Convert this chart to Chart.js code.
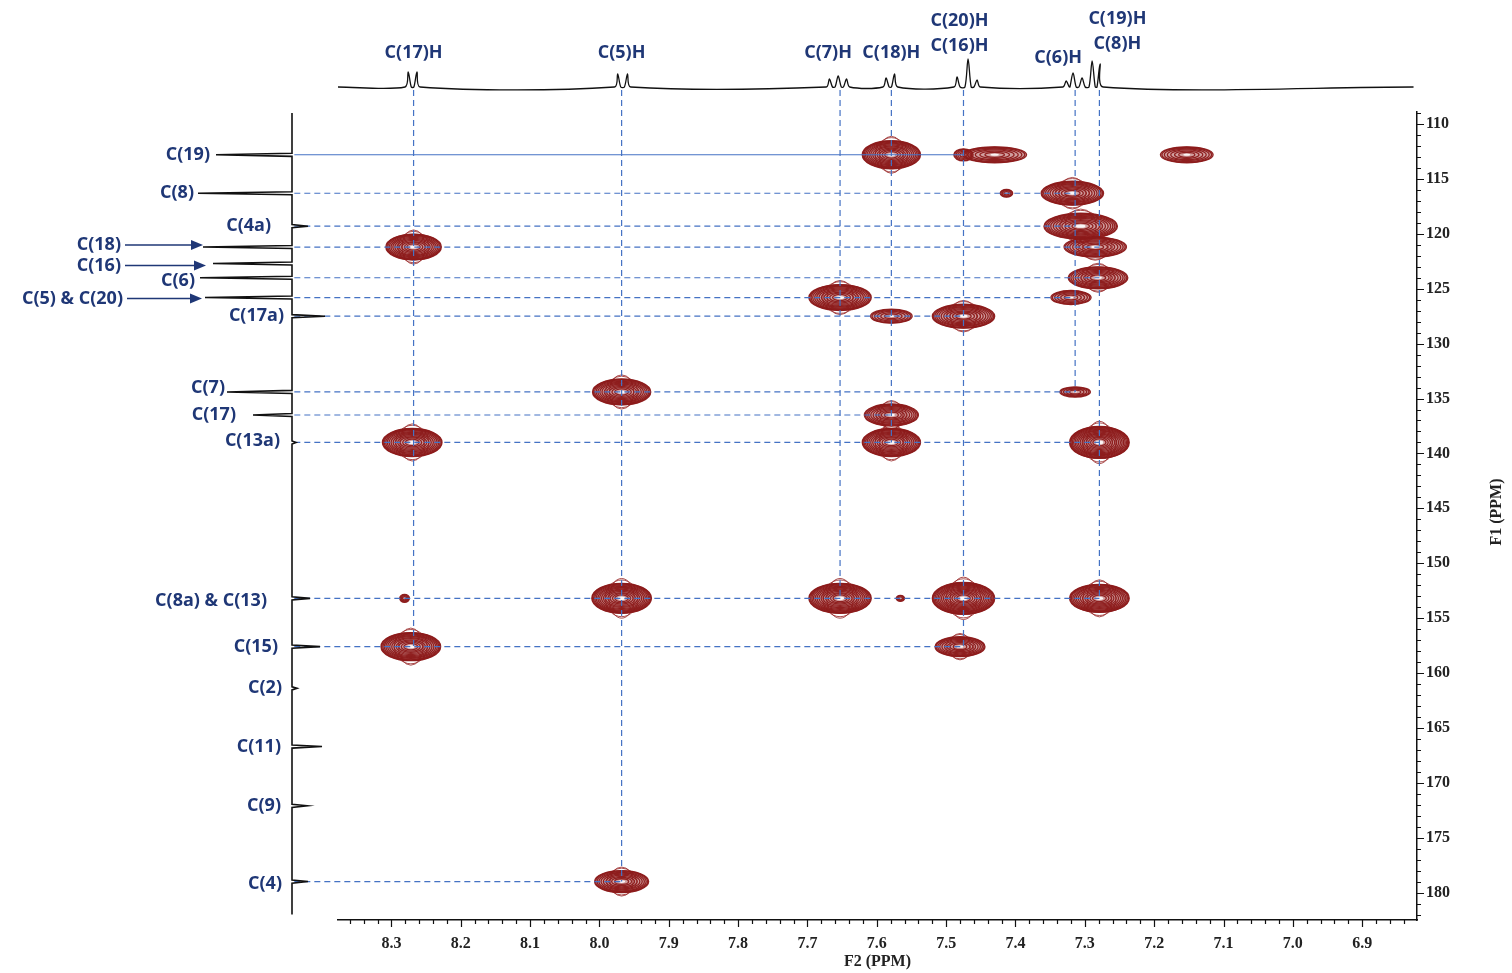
<!DOCTYPE html>
<html>
<head>
<meta charset="utf-8">
<script src="https://cdn.jsdelivr.net/npm/chart.js@4.4.1/dist/chart.umd.min.js"></script>
<style>
  html, body { margin: 0; padding: 0; background: #fff; }
  #wrap { width: 1512px; height: 973px; }
</style>
</head>
<body>
<div id="wrap"><canvas id="hmbc" width="1512" height="973"></canvas></div>
<script>
// ---- data ----

// 1H projection (F2): line positions (ppm) and heights (arb. units)
const protonLines   = [8.2758, 8.2631, 7.9737, 7.9595, 7.6684, 7.6557, 7.6436, 7.5867, 7.5744,
                       7.4843, 7.4684, 7.4554, 7.327, 7.317, 7.304, 7.2895, 7.278];
const protonHeights = [15, 15, 13, 13, 8, 11, 8, 9, 13, 10, 28, 7, 6, 14, 9, 26, 23];

// assigned protons
const protonLabels  = [["C(17)H"], ["C(5)H"], ["C(7)H"], ["C(18)H"], ["C(20)H", "C(16)H"], ["C(6)H"], ["C(19)H", "C(8)H"]];
const protonShifts  = [8.268, 7.968, 7.653, 7.579, 7.475, 7.314, 7.279];
const protonLineEnd = [157.6, 179.0, 153.2, 139.0, 157.6, 134.4, 153.2]; // F1 where guide stops

// 13C projection (F1)
const carbonLabels  = ["C(19)", "C(8)", "C(4a)", "C(18)", "C(16)", "C(6)", "C(5) & C(20)", "C(17a)",
                       "C(7)", "C(17)", "C(13a)", "C(8a) & C(13)", "C(15)", "C(2)", "C(11)", "C(9)", "C(4)"];
const carbonShifts  = [112.8, 116.3, 119.3, 121.2, 122.7, 124.0, 125.8, 127.5, 134.4, 136.5, 139.0,
                       153.2, 157.6, 161.4, 166.7, 172.1, 179.0];
const carbonHeights = [76, 94, -16, 89, 79, 92, 87, -33, 65, 39, -4, -18, -28, -5, -30, -15, -16];
const carbonLineEnd = [7.475, 7.314, 7.314, 7.279, null, 7.279, 7.314, 7.475, 7.314, 7.579, 7.279,
                       7.279, 7.475, null, null, null, 7.968]; // F2 where guide stops

// cross peaks (F2 ppm, F1 ppm, half widths in ppm)
const peakF2 = [7.579, 7.475, 7.430, 7.153, 7.413, 7.318, 7.306, 7.285, 7.281, 7.320, 8.268, 7.653, 7.579, 7.475,
                7.968, 7.314, 7.579, 8.270, 7.579, 7.279, 8.281, 7.968, 7.653, 7.566, 7.475, 7.279, 8.272, 7.480, 7.968];
const peakF1 = [112.8, 112.8, 112.8, 112.8, 116.3, 116.3, 119.3, 121.2, 124.0, 125.8, 121.2, 125.8, 127.5, 127.5,
                134.4, 134.4, 136.5, 139.0, 139.0, 139.0, 153.2, 153.2, 153.2, 153.2, 153.2, 153.2, 157.6, 157.6, 179.0];
const peakHalfWidthF2 = [0.042, 0.014, 0.046, 0.038, 0.009, 0.045, 0.053, 0.045, 0.043, 0.029, 0.040, 0.045, 0.030, 0.045,
                         0.042, 0.022, 0.039, 0.043, 0.042, 0.043, 0.007, 0.043, 0.045, 0.006, 0.045, 0.043, 0.043, 0.036, 0.039];
const peakHalfWidthF1 = [1.28, 0.55, 0.73, 0.73, 0.36, 1.09, 1.18, 0.91, 1.0, 0.64, 1.18, 1.18, 0.64, 1.09,
                         1.18, 0.46, 1.0, 1.28, 1.28, 1.46, 0.36, 1.37, 1.37, 0.27, 1.46, 1.28, 1.28, 0.91, 1.0];

// axis ticks
const xTickValues = [8.3, 8.2, 8.1, 8.0, 7.9, 7.8, 7.7, 7.6, 7.5, 7.4, 7.3, 7.2, 7.1, 7.0, 6.9];
const yTickValues = [110, 115, 120, 125, 130, 135, 140, 145, 150, 155, 160, 165, 170, 175, 180];

// ---- layout ----
const X_MIN = 6.821, X_MAX = 8.377;
const Y_MIN = 108.9, Y_MAX = 182.5;
const H_BASE_F1 = 106.9;  // guides leave the 1H trace here
const C_BASE_F2 = 8.44;   // guides leave the 13C trace here
const NAVY = "#1f3776";
const GUIDE = "#4472c4";

const protonLabelDx = [0, 0, -12, 0, -4, -17, 18];
const protonLabelY  = [53, 53, 53, 53, 46, 58, 44];
const carbonLabelRight = [210, 194, 271, 121, 121, 195, 123, 284, 225, 236, 280, 267, 278, 282, 281, 281, 282];
const carbonLabelDy    = [0, 0, 0, -2, 2, 3, 1, 0, -4, 0, -2, 3, 0, 0, 0, 0, 2];
const arrowTips = { 3: 203, 4: 206, 6: 202 };

const serif = '"Liberation Serif", "Times New Roman", serif';

// 1H trace
const hw = 0.0045;
const topTrace = [{ x: X_MAX, y: 0 }];
protonLines.forEach((s, i) => {
  topTrace.push({ x: s + hw, y: 0 }, { x: s, y: protonHeights[i] }, { x: s - hw, y: 0 });
});
topTrace.push({ x: 6.826, y: 0 });

// 13C trace
const leftTrace = [{ x: 0, y: 109.0 }];
carbonShifts.forEach((s, i) => {
  leftTrace.push({ x: 0, y: s - 0.14 }, { x: carbonHeights[i], y: s }, { x: 0, y: s + 0.14 });
});
leftTrace.push({ x: 0, y: 182.0 });

const datasets = [];
datasets.push({
  label: "1H", data: topTrace, xAxisID: "x", yAxisID: "yTop", showLine: true,
  borderColor: "#111", borderWidth: 1.3, pointRadius: 0, tension: 0.3, clip: false
});
datasets.push({
  label: "13C", data: leftTrace, xAxisID: "xLeft", yAxisID: "y", showLine: true,
  borderColor: "#111", borderWidth: 1.6, pointRadius: 0, tension: 0, clip: false
});
protonShifts.forEach((s, i) => {
  datasets.push({
    data: [{ x: s, y: H_BASE_F1 }, { x: s, y: protonLineEnd[i] }],
    xAxisID: "x", yAxisID: "y", showLine: true, borderColor: GUIDE, borderWidth: 1.2,
    borderDash: [6, 4], pointRadius: 0, clip: false
  });
});
carbonShifts.forEach((s, i) => {
  if (carbonLineEnd[i] == null) return;
  datasets.push({
    data: [{ x: C_BASE_F2, y: s }, { x: carbonLineEnd[i], y: s }],
    xAxisID: "x", yAxisID: "y", showLine: true, borderColor: GUIDE,
    borderWidth: i === 0 ? 1.1 : 1.2, borderDash: i === 0 ? [] : [6, 4], pointRadius: 0, clip: false
  });
});
const peakIndex = datasets.length;
datasets.push({
  label: "peaks", data: peakF2.map((x, i) => ({ x: x, y: peakF1[i] })),
  xAxisID: "x", yAxisID: "y", pointRadius: 0, pointHoverRadius: 0, showLine: false
});

function ring(ctx, x, y, rx, ry) {
  ctx.beginPath();
  ctx.ellipse(x, y, rx, ry, 0, 0, Math.PI * 2);
  ctx.stroke();
}

// contour ellipses for each cross peak
const contourPlugin = {
  id: "contours",
  beforeDatasetsDraw(chart) {
    const ctx = chart.ctx;
    const sx = chart.scales.x, sy = chart.scales.y;
    const meta = chart.getDatasetMeta(peakIndex);
    ctx.save();
    meta.data.forEach((pt, i) => {
      const rx = Math.abs(sx.getPixelForValue(peakF2[i] + peakHalfWidthF2[i]) - pt.x);
      const ry = Math.abs(sy.getPixelForValue(peakF1[i] + peakHalfWidthF1[i]) - pt.y);
      // faint outer lobes on the stronger peaks
      if (ry > 9) {
        ctx.strokeStyle = "rgba(150,35,35,0.8)";
        ctx.lineWidth = 1;
        ring(ctx, pt.x, pt.y, rx * 0.55, ry * 1.22);
        ring(ctx, pt.x, pt.y, rx * 0.42, ry * 1.32);
      }
      ctx.fillStyle = "rgba(150,40,40,0.45)";
      ctx.beginPath();
      ctx.ellipse(pt.x, pt.y, rx, ry, 0, 0, Math.PI * 2);
      ctx.fill();
      ctx.strokeStyle = "rgba(140,26,26,0.95)";
      ctx.lineWidth = 1.3;
      const n = Math.max(2, Math.round(ry / 1.1));
      for (let k = 0; k < n; k++) {
        const f = 1 - 0.86 * Math.pow(k / n, 1.4);
        ring(ctx, pt.x, pt.y, rx * f, ry * f);
      }
      // pale core
      ctx.fillStyle = "rgba(255,255,255,0.9)";
      ctx.beginPath();
      ctx.ellipse(pt.x, pt.y, rx * 0.13, ry * 0.12, 0, 0, Math.PI * 2);
      ctx.fill();
    });
    ctx.restore();
  }
};

// major + minor tick marks
const tickPlugin = {
  id: "tickMarks",
  afterDraw(chart) {
    const ctx = chart.ctx;
    const sx = chart.scales.x, sy = chart.scales.y;
    ctx.save();
    ctx.strokeStyle = "#111";
    ctx.lineWidth = 1.2;
    ctx.beginPath();
    for (let k = Math.ceil(X_MIN * 50); k <= Math.floor(X_MAX * 50); k++) {
      const px = Math.round(sx.getPixelForValue(k / 50)) + 0.5;
      const len = k % 5 === 0 ? 7 : 4;
      ctx.moveTo(px, sx.top);
      ctx.lineTo(px, sx.top + len);
    }
    for (let v = Math.ceil(Y_MIN); v <= Math.floor(Y_MAX); v++) {
      const py = Math.round(sy.getPixelForValue(v)) + 0.5;
      const len = v % 5 === 0 ? 7 : 4;
      ctx.moveTo(sy.left, py);
      ctx.lineTo(sy.left + len, py);
    }
    ctx.stroke();
    ctx.restore();
  }
};

// assignments, arrows, F1 title
const labelPlugin = {
  id: "labels",
  afterDraw(chart) {
    const ctx = chart.ctx;
    const sx = chart.scales.x, sy = chart.scales.y;
    ctx.save();
    ctx.fillStyle = NAVY;
    ctx.strokeStyle = NAVY;
    ctx.font = 'bold 18px "Open Sans", "Noto Sans", sans-serif';
    ctx.textBaseline = "middle";
    ctx.textAlign = "center";
    protonLabels.forEach((lines, i) => {
      const cx = sx.getPixelForValue(protonShifts[i]) + protonLabelDx[i];
      lines.forEach((t, k) => {
        ctx.fillText(t, cx, protonLabelY[i] - (lines.length - 1 - k) * 25);
      });
    });
    ctx.textAlign = "right";
    carbonLabels.forEach((t, i) => {
      const cy = sy.getPixelForValue(carbonShifts[i]) + carbonLabelDy[i];
      ctx.fillText(t, carbonLabelRight[i], cy);
      if (arrowTips[i] !== undefined) {
        const x0 = carbonLabelRight[i] + 4, x1 = arrowTips[i];
        ctx.lineWidth = 1.6;
        ctx.beginPath();
        ctx.moveTo(x0, cy);
        ctx.lineTo(x1 - 10, cy);
        ctx.stroke();
        ctx.beginPath();
        ctx.moveTo(x1, cy);
        ctx.lineTo(x1 - 12, cy - 5);
        ctx.lineTo(x1 - 12, cy + 5);
        ctx.closePath();
        ctx.fill();
      }
    });
    ctx.fillStyle = "#222";
    ctx.font = "bold 16px " + serif;
    ctx.textAlign = "center";
    ctx.translate(1497, 512);
    ctx.rotate(-Math.PI / 2);
    ctx.fillText("F1 (PPM)", 0, 0);
    ctx.restore();
  }
};

new Chart(document.getElementById("hmbc"), {
  type: "scatter",
  data: { datasets: datasets },
  options: {
    responsive: false,
    animation: false,
    events: [],
    layout: { padding: { left: 338, top: 112, right: 0, bottom: 0 } },
    plugins: { legend: { display: false }, tooltip: { enabled: false } },
    scales: {
      x: {
        type: "linear", position: "bottom", reverse: true, min: X_MIN, max: X_MAX,
        afterBuildTicks: s => { s.ticks = xTickValues.map(v => ({ value: v })); },
        afterFit: s => { s.height = 53; },
        grid: { display: false, drawTicks: false },
        border: { display: true, color: "#111", width: 1.5 },
        ticks: {
          font: { family: serif, weight: "bold", size: 16 }, color: "#222", padding: 14,
          maxRotation: 0, autoSkip: false, callback: v => Number(v).toFixed(1)
        },
        title: {
          display: true, text: "F2 (PPM)", color: "#222",
          font: { family: serif, weight: "bold", size: 16 }, padding: { top: 0, bottom: 2 }
        }
      },
      y: {
        type: "linear", position: "right", reverse: true, min: Y_MIN, max: Y_MAX,
        afterBuildTicks: s => { s.ticks = yTickValues.map(v => ({ value: v })); },
        afterFit: s => { s.width = 95; },
        grid: { display: false, drawTicks: false },
        border: { display: true, color: "#111", width: 1.5 },
        ticks: {
          font: { family: serif, weight: "bold", size: 16 }, color: "#222", padding: 9,
          autoSkip: false, callback: v => String(v)
        }
      },
      xLeft: { type: "linear", display: false, reverse: true, min: -1125, max: -46 },
      yTop: { type: "linear", display: false, min: -833, max: -25 }
    }
  },
  plugins: [contourPlugin, tickPlugin, labelPlugin]
});
</script>
</body>
</html>
